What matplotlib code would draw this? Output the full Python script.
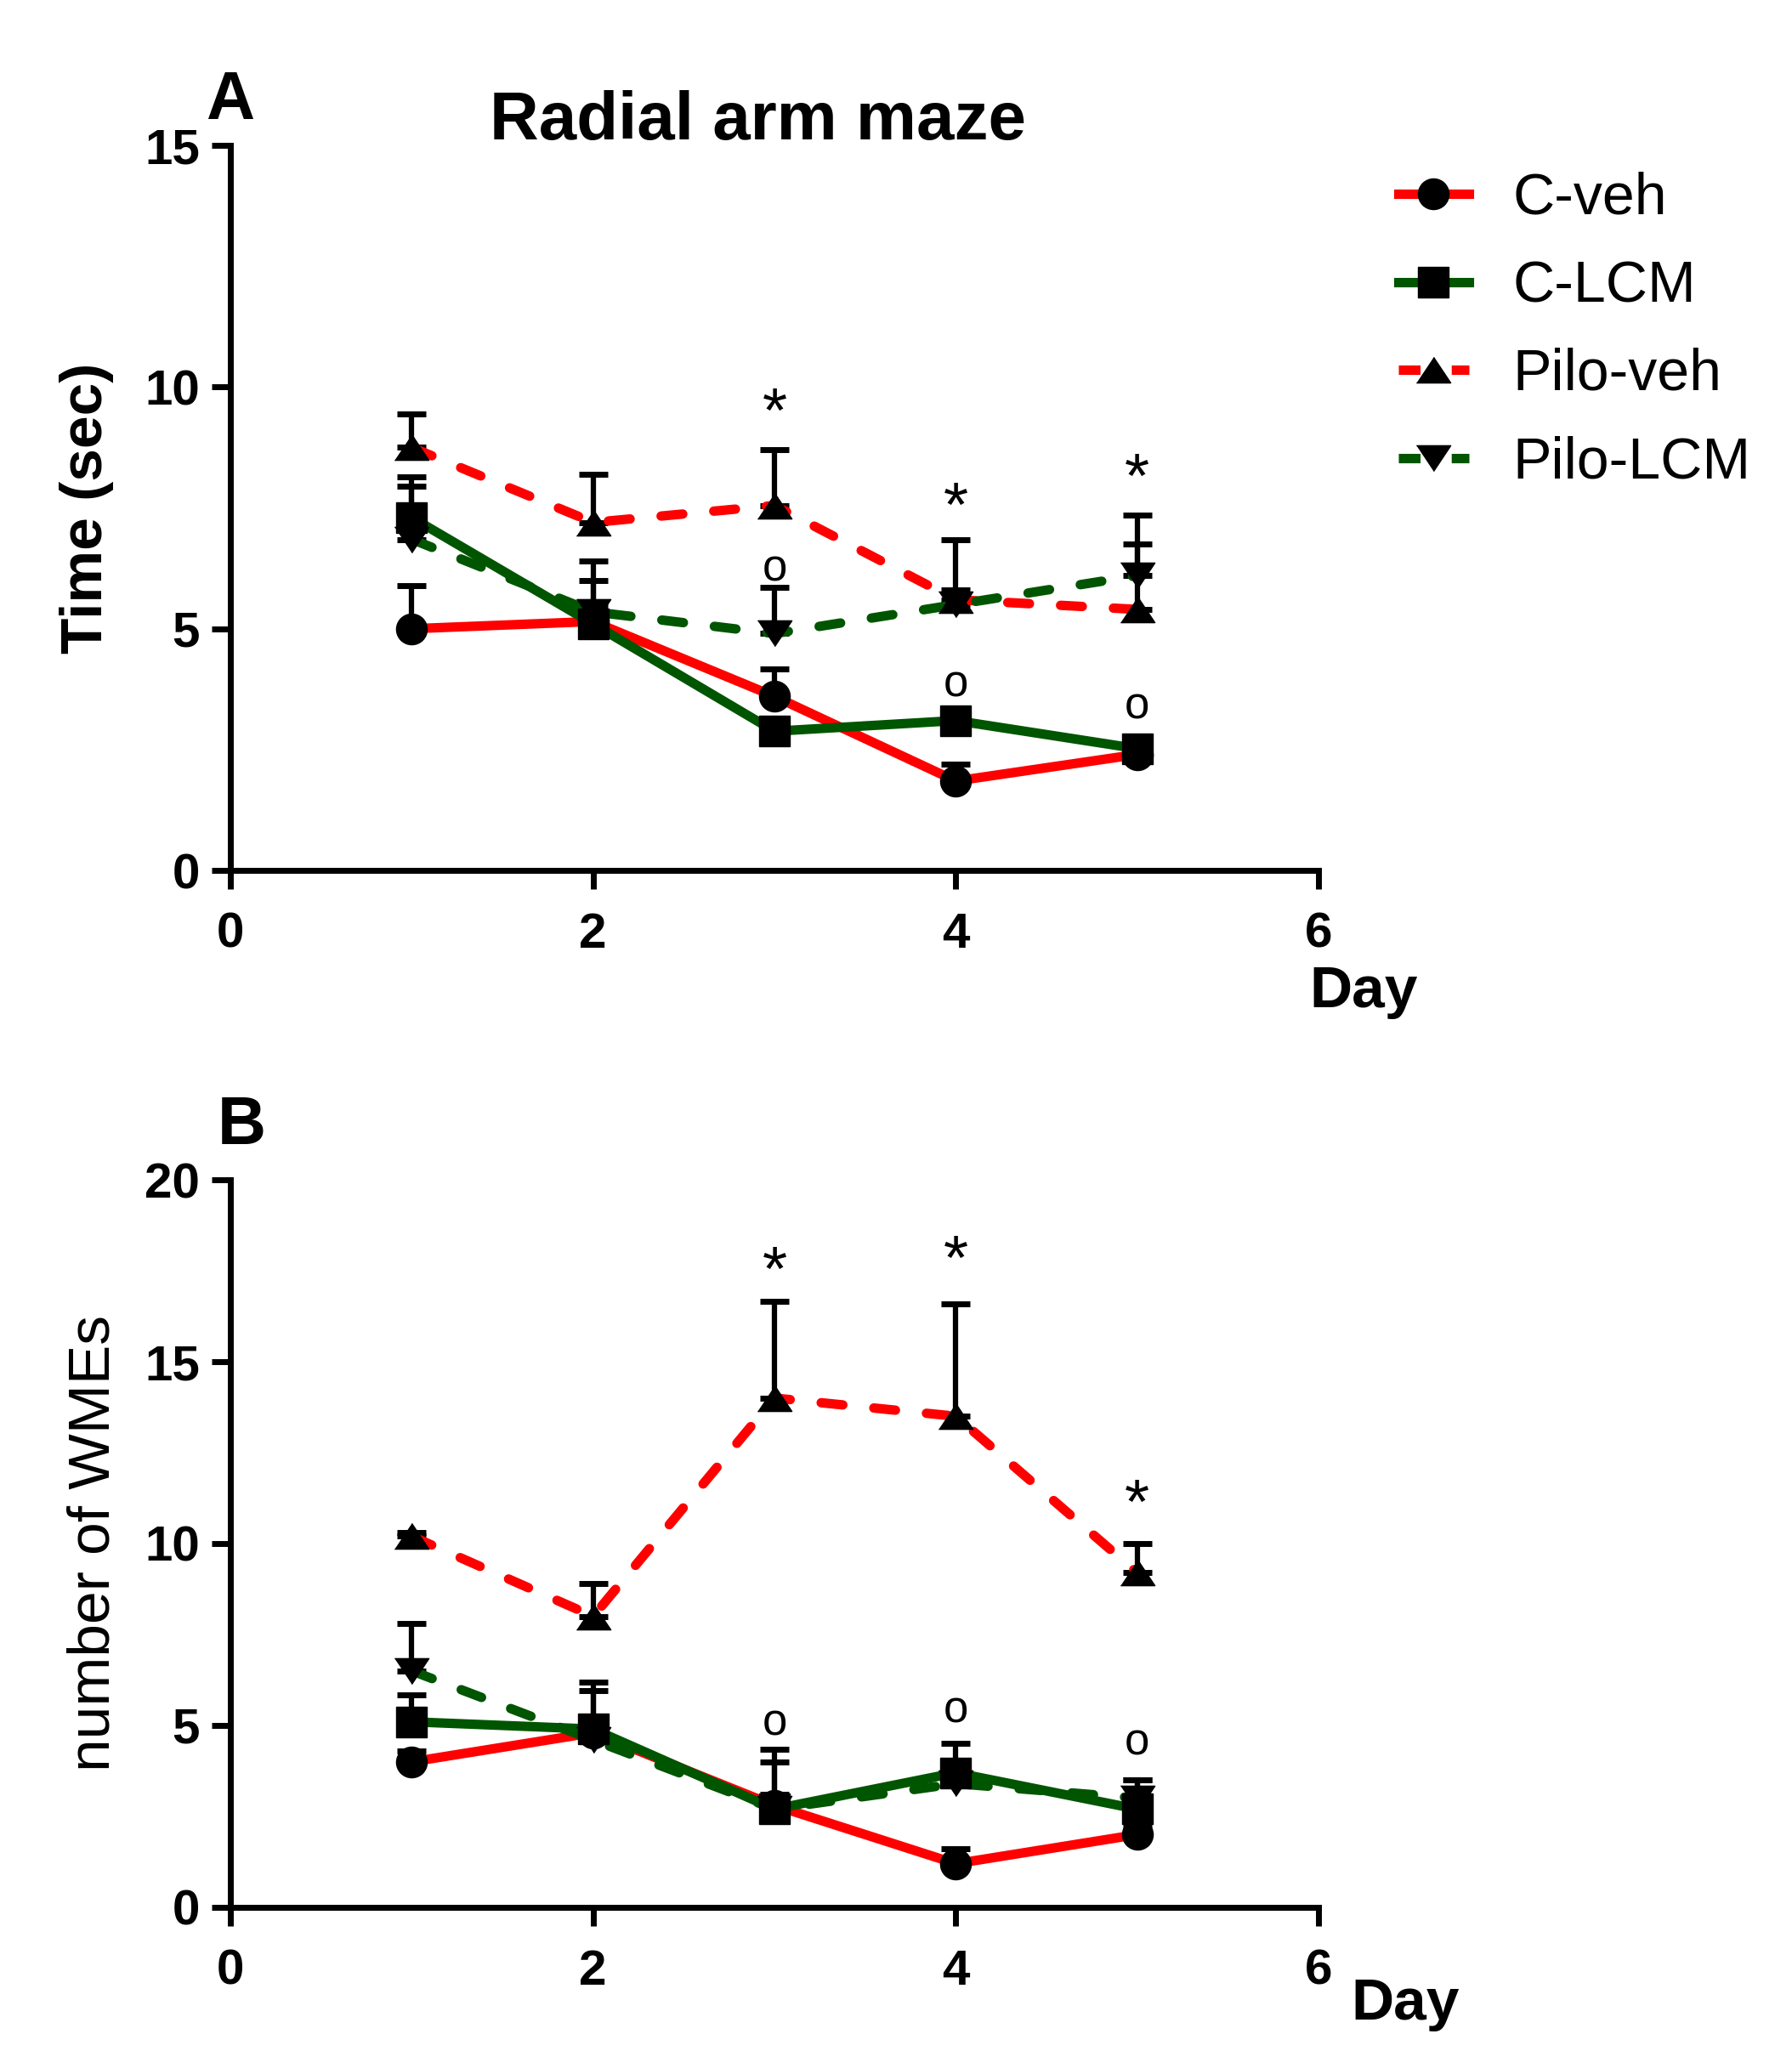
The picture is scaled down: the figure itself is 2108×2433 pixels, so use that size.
import matplotlib
matplotlib.use("Agg")
import matplotlib.pyplot as plt
from matplotlib.lines import Line2D
import numpy as np

plt.rcParams["font.family"] = ["Liberation Sans", "DejaVu Sans"]

#
# Data
#
days = [1, 2, 3, 4, 5]
groups = ["C-veh", "C-LCM", "Pilo-veh", "Pilo-LCM"]

# Panel A: time (sec), mean and upper SEM
time_cveh = [5.0, 5.15, 3.6, 1.85, 2.4]
time_cveh_err = [0.9, 0.3, 0.57, 0.35, 0.1]
time_clcm = [7.3, 5.1, 2.88, 3.1, 2.52]
time_clcm_err = [0.65, 0.9, 0.2, 0.2, 0.15]
time_pveh = [8.75, 7.2, 7.55, 5.6, 5.4]
time_pveh_err = [0.7, 1.0, 1.15, 1.25, 1.95]
time_plcm = [6.85, 5.35, 4.9, 5.5, 6.1]
time_plcm_err = [1.3, 1.05, 0.95, 0.3, 0.65]

# Panel B: number of WMEs, mean and upper SEM
wme_cveh = [4.0, 4.8, 2.8, 1.2, 2.0]
wme_cveh_err = [0.3, 0.3, 0.3, 0.4, 0.2]
wme_clcm = [5.1, 4.9, 2.7, 3.7, 2.7]
wme_clcm_err = [0.75, 1.05, 1.3, 0.8, 0.8]
wme_pveh = [10.2, 8.0, 14.0, 13.5, 9.2]
wme_pveh_err = [0.1, 0.9, 2.65, 3.1, 0.8]
wme_plcm = [6.5, 4.6, 2.7, 3.4, 3.0]
wme_plcm_err = [1.3, 1.6, 1.65, 0.3, 0.5]

# significance marks (day, y)
star_days = [3, 4, 5]
time_star_y = [9.55, 7.6, 8.2]
time_circ_y = [6.34, 3.94, 3.48]
wme_star_y = [17.6, 17.9, 11.2]
wme_circ_y = [5.18, 5.53, 4.65]

#
# Styles
#
red = "#ff0000"
green = "#005500"
tri_up = [(-1, -0.75), (1, -0.75), (0, 0.75)]
tri_dn = [(-1, 0.75), (1, 0.75), (0, -0.75)]
styles = {
    "C-veh": dict(color=red, ls="-", marker="o"),
    "C-LCM": dict(color=green, ls="-", marker="s"),
    "Pilo-veh": dict(color=red, ls=(0, (2.3, 3.3)), marker=tri_up),
    "Pilo-LCM": dict(color=green, ls=(0, (2.3, 3.3)), marker=tri_dn),
}
msize = {"C-veh": 26, "C-LCM": 26, "Pilo-veh": 29, "Pilo-LCM": 29}
lw = 8

fig = plt.figure(figsize=(21.08, 24.33), dpi=100)
axA = fig.add_axes([0.1286, 0.5791, 0.6072, 0.3506])
axB = fig.add_axes([0.1286, 0.0777, 0.6072, 0.3518])


def draw(ax, series):
    for name, (vals, errs) in zip(groups, series):
        st = styles[name]
        ax.errorbar(days, vals, yerr=[np.zeros(len(errs)), errs], fmt="none",
                    ecolor="k", elinewidth=4.5, capsize=12, capthick=5, zorder=2)
        ax.plot(days, vals, color=st["color"], ls=st["ls"], lw=lw,
                dash_capstyle="round", zorder=3)
        ax.plot(days, vals, ls="none", marker=st["marker"], ms=msize[name],
                mfc="k", mec="k", zorder=4)
    ax.set_xlim(0, 6)
    ax.set_xticks([0, 2, 4, 6])
    for s in ["top", "right"]:
        ax.spines[s].set_visible(False)
    for s in ["left", "bottom"]:
        ax.spines[s].set_linewidth(5)
    ax.tick_params(width=5, length=16, labelsize=42, pad=10)
    ax.tick_params(axis="x", pad=19)


draw(axA, [(time_cveh, time_cveh_err), (time_clcm, time_clcm_err),
           (time_pveh, time_pveh_err), (time_plcm, time_plcm_err)])
axA.set_ylim(0, 15)
axA.set_yticks([0, 5, 10, 15])

draw(axB, [(wme_cveh, wme_cveh_err), (wme_clcm, wme_clcm_err),
           (wme_pveh, wme_pveh_err), (wme_plcm, wme_plcm_err)])
axB.set_ylim(0, 20)
axB.set_yticks([0, 5, 10, 15, 20])

for ax in (axA, axB):
    for lab in ax.get_xticklabels() + ax.get_yticklabels():
        lab.set_fontweight("bold")

# significance marks
for d, ys, yc in zip(star_days, time_star_y, time_circ_y):
    axA.text(d, ys, "*", fontsize=54, ha="center", va="center_baseline")
    axA.text(d, yc, "o", fontsize=38, ha="center", va="center_baseline")
for d, ys, yc in zip(star_days, wme_star_y, wme_circ_y):
    axB.text(d, ys, "*", fontsize=54, ha="center", va="center_baseline")
    axB.text(d, yc, "o", fontsize=38, ha="center", va="center_baseline")

# labels
axA.set_ylabel("Time (sec)", fontsize=50, fontweight="bold", labelpad=26)
axB.set_ylabel("number of WMEs", fontsize=50, labelpad=20)
axA.text(0.992, -0.13, "Day", transform=axA.transAxes, fontsize=50,
         fontweight="bold", ha="left", va="top")
axB.text(1.03, -0.096, "Day", transform=axB.transAxes, fontsize=50,
         fontweight="bold", ha="left", va="top")
fig.text(0.423, 0.941, "Radial arm maze", fontsize=57.5, fontweight="bold",
         ha="center", va="center")
fig.text(0.1286, 0.951, "A", fontsize=57, fontweight="bold", ha="center", va="center")
fig.text(0.135, 0.455, "B", fontsize=57, fontweight="bold", ha="center", va="center")

# legend
leg_handles = []
for name in groups:
    st = styles[name]
    leg_handles.append(Line2D([], [], color=st["color"], ls=st["ls"], lw=lw,
                              marker=st["marker"], ms=msize[name],
                              mfc="k", mec="k"))
fig.legend(leg_handles, groups, loc="upper left", bbox_to_anchor=(0.764, 0.931),
           frameon=False, fontsize=49, handlelength=1.23, handletextpad=0.75,
           labelspacing=0.58, borderpad=0)

fig.savefig("out.png", dpi=100)
